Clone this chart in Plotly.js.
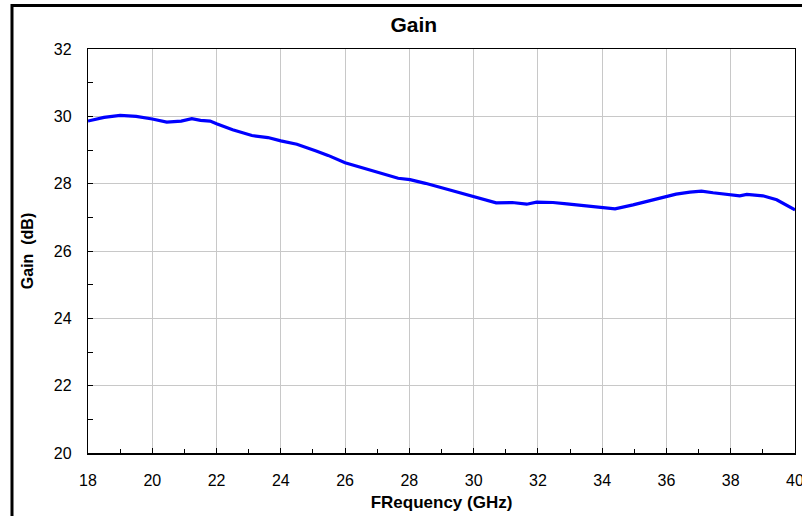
<!DOCTYPE html>
<html>
<head>
<meta charset="utf-8">
<script src="https://cdn.plot.ly/plotly-3.0.1.min.js"></script>
<style>
html,body{margin:0;padding:0;background:#fff;}
#chart{width:802px;height:516px;}
</style>
</head>
<body>
<div id="chart"></div>
<script>
const freq = [18, 18.5, 19, 19.5, 20, 20.45, 20.9, 21.23, 21.5, 21.8, 22, 22.5, 23.1, 23.6, 24, 24.5, 25.1, 25.47, 26, 26.56, 27.09, 27.65, 28.02, 28.5, 29.26, 29.98, 30.7, 31.2, 31.65, 31.96, 32.47, 32.9, 33.4, 33.93, 34.4, 34.96, 35.49, 36.0, 36.3, 36.73, 37.09, 37.45, 37.97, 38.28, 38.5, 39.0, 39.43, 39.74, 40];
const gain = [29.86, 29.97, 30.03, 30.0, 29.92, 29.83, 29.86, 29.93, 29.88, 29.86, 29.78, 29.6, 29.43, 29.37, 29.27, 29.17, 28.97, 28.84, 28.62, 28.47, 28.31, 28.16, 28.12, 28.01, 27.81, 27.61, 27.43, 27.44, 27.39, 27.45, 27.44, 27.40, 27.35, 27.29, 27.25, 27.37, 27.5, 27.61, 27.69, 27.75, 27.78, 27.73, 27.67, 27.64, 27.68, 27.64, 27.52, 27.37, 27.22];
const xTicks = [18, 20, 22, 24, 26, 28, 30, 32, 34, 36, 38, 40];
const yTicks = [20, 22, 24, 26, 28, 30, 32];

const font = 'Liberation Sans, Arial, sans-serif';

const trace = {
  x: freq, y: gain, type: 'scatter', mode: 'lines',
  line: {color: '#0000ff', width: 3.2}, showlegend: false, hoverinfo: 'x+y'
};

const layout = {
  width: 802, height: 516,
  margin: {l: 88, r: 7, t: 49, b: 63},
  paper_bgcolor: '#ffffff', plot_bgcolor: '#ffffff',
  font: {family: font, color: '#000', size: 16},
  title: {text: '<b>Gain</b>', font: {family: font, size: 21, color: '#000'},
          x: 0.516, xref: 'container', xanchor: 'center', y: 0.952, yref: 'container', yanchor: 'middle'},
  xaxis: {
    range: [18, 40], tickvals: xTicks, ticktext: xTicks.map(String),
    showgrid: true, gridcolor: '#c8c8c8', gridwidth: 1,
    showline: true, linecolor: '#000', linewidth: 1.5, mirror: true,
    ticks: 'inside', ticklen: 5, tickcolor: '#000', tickwidth: 1,
    ticklabelstandoff: 12, ticklabeloverflow: 'allow',
    minor: {dtick: 1, tick0: 18, ticks: 'inside', ticklen: 4, tickcolor: '#000', showgrid: false},
    zeroline: false,
    tickfont: {family: font, size: 16, color: '#000'},
    title: {text: '<b>FRequency (GHz)</b>', font: {family: font, size: 17, color: '#000'}, standoff: 8}
  },
  yaxis: {
    range: [20, 32], tickvals: yTicks, ticktext: yTicks.map(String),
    showgrid: true, gridcolor: '#c8c8c8', gridwidth: 1,
    showline: true, linecolor: '#000', linewidth: 1.2, mirror: true,
    ticks: 'inside', ticklen: 5, tickcolor: '#000', tickwidth: 1,
    ticklabelstandoff: 12,
    minor: {dtick: 1, tick0: 20, ticks: 'inside', ticklen: 5, tickcolor: '#000', showgrid: false},
    zeroline: false,
    tickfont: {family: font, size: 16, color: '#000'},
    title: {text: '<b>Gain&nbsp; (dB)</b>', font: {family: font, size: 16, color: '#000'}, standoff: 16}
  },
  shapes: [{
    type: 'rect', xref: 'paper', yref: 'paper',
    x0: -0.1075, x1: 1.06, y0: -0.22, y1: 1.1075,
    line: {color: '#000', width: 3}, fillcolor: 'rgba(0,0,0,0)', layer: 'above'
  }]
};

Plotly.newPlot('chart', [trace], layout, {displayModeBar: false, staticPlot: true});
</script>
</body>
</html>
